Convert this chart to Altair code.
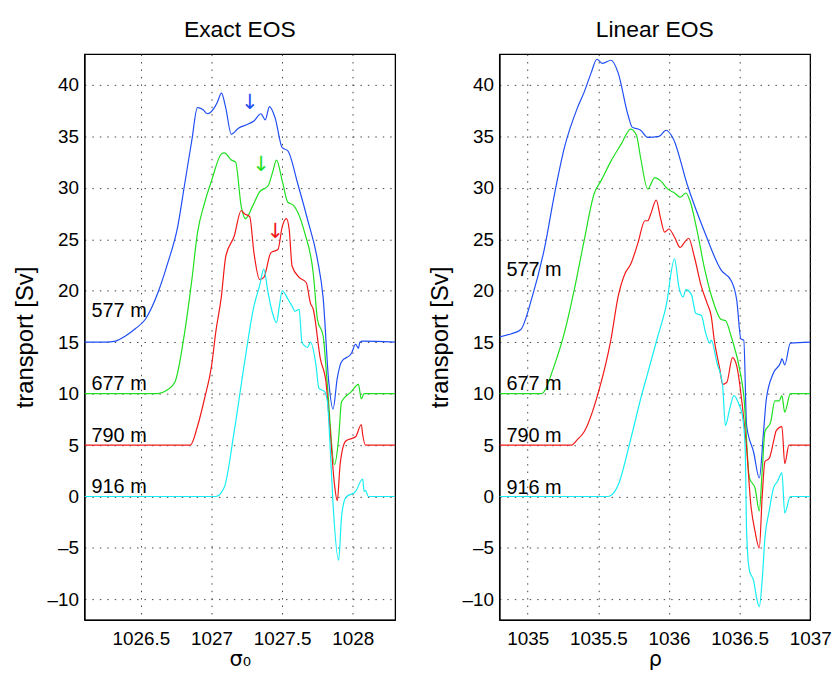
import altair as alt
import pandas as pd

FONT = "Liberation Sans"
SYM_FONT = "DejaVu Sans"
DEPTHS = ["577 m", "677 m", "790 m", "916 m"]
COLORS = ["#1f4ef5", "#1ee01e", "#f21818", "#14eef2"]
Y_TICKS = [-10, -5, 0, 5, 10, 15, 20, 25, 30, 35, 40]

# ---------------- Exact EOS (sigma_0) ----------------
e577_x = [1026.1, 1026.25, 1026.32, 1026.39, 1026.46, 1026.53, 1026.62, 1026.69, 1026.76, 1026.81,
          1026.86, 1026.90, 1026.94, 1026.97, 1027.02, 1027.04, 1027.07, 1027.10, 1027.14, 1027.19,
          1027.26, 1027.30, 1027.35, 1027.38, 1027.41, 1027.45, 1027.50, 1027.54, 1027.61, 1027.68,
          1027.75, 1027.79, 1027.83, 1027.86, 1027.89, 1027.92, 1027.99, 1028.02, 1028.04, 1028.05,
          1028.07, 1028.3]
e577_y = [15, 15, 15.1, 15.6, 16.3, 17.2, 19.8, 22.7, 26.2, 30.4,
          34.6, 37.8, 37.6, 37.2, 37.8, 38.3, 39.2, 37.8, 35.2, 35.8,
          36.2, 36.5, 37.2, 36.6, 37.9, 36.8, 33.9, 33.6, 30.4, 26.9,
          23.0, 19.3, 11.1, 8.5, 11.5, 13.1, 13.9, 14.8, 14.4, 15.0,
          15.1, 15.0]

e677_x = [1026.1, 1026.62, 1026.68, 1026.74, 1026.81, 1026.86, 1026.90, 1026.95, 1027.00, 1027.07,
          1027.09, 1027.14, 1027.17, 1027.21, 1027.24, 1027.29, 1027.34, 1027.40, 1027.43, 1027.46,
          1027.50, 1027.54, 1027.58, 1027.66, 1027.72, 1027.75, 1027.79, 1027.82, 1027.87, 1027.90,
          1027.92, 1027.99, 1028.04, 1028.06, 1028.08, 1028.3]
e677_y = [10, 10, 10.3, 11.1, 16.0, 21.0, 25.6, 28.5, 30.7, 33.3,
          33.4, 32.7, 32.5, 28.2, 27.0, 28.2, 29.6, 30.2, 31.4, 32.7,
          30.7, 28.6, 28.3, 25.6, 21.7, 17.2, 15.6, 10.8, 3.1, 5.7,
          9.2, 10.2, 10.9, 9.5, 10.0, 10.0]

e790_x = [1026.1, 1026.85, 1026.90, 1026.95, 1027.00, 1027.03, 1027.07, 1027.10, 1027.16, 1027.21,
          1027.23, 1027.27, 1027.30, 1027.34, 1027.37, 1027.42, 1027.47, 1027.50, 1027.53, 1027.55,
          1027.57, 1027.62, 1027.67, 1027.70, 1027.72, 1027.77, 1027.81, 1027.84, 1027.87, 1027.89,
          1027.91, 1027.95, 1028.02, 1028.06, 1028.07, 1028.09, 1028.3]
e790_y = [5, 5, 6.8, 9.5, 12.7, 16.0, 19.5, 23.3, 25.3, 27.8,
          27.5, 27.2, 23.7, 21.1, 21.3, 23.7, 24.0, 26.2, 27.0, 25.9,
          22.4, 21.3, 20.8, 18.8, 18.2, 13.4, 11.1, 6.3, 1.2, -0.4,
          3.1, 5.4, 5.8, 7.0, 6.0, 5.0, 5.0]

e916_x = [1026.1, 1027.03, 1027.09, 1027.16, 1027.23, 1027.30, 1027.34, 1027.37, 1027.40, 1027.43,
          1027.46, 1027.48, 1027.50, 1027.54, 1027.57, 1027.59, 1027.62, 1027.64, 1027.68, 1027.70,
          1027.74, 1027.76, 1027.80, 1027.82, 1027.84, 1027.86, 1027.90, 1027.92, 1027.95, 1028.02,
          1028.07, 1028.08, 1028.09, 1028.11, 1028.3]
e916_y = [0, 0, 0.9, 6.3, 12.7, 18.5, 20.5, 22.1, 19.8, 17.9,
          16.9, 18.5, 20.0, 19.2, 18.5, 18.0, 18.2, 15.0, 14.5, 15.0,
          12.7, 10.5, 10.2, 9.2, 4.7, -0.7, -6.2, -2.0, -0.1, 0.5,
          1.7, 0.5, 0.6, 0, 0]

# ---------------- Linear EOS (rho) ----------------
l577_x = [1034.8, 1034.88, 1034.95, 1035.03, 1035.12, 1035.19, 1035.26, 1035.35, 1035.40, 1035.45,
          1035.49, 1035.53, 1035.59, 1035.64, 1035.71, 1035.74, 1035.80, 1035.85, 1035.93, 1035.98,
          1036.03, 1036.13, 1036.25, 1036.37, 1036.44, 1036.48, 1036.51, 1036.53, 1036.55, 1036.60,
          1036.64, 1036.67, 1036.69, 1036.74, 1036.79, 1036.80, 1036.82, 1036.86, 1037.0]
l577_y = [15.5, 15.8, 16.2, 19.3, 24.2, 29.4, 33.9, 37.7, 39.3, 41.2,
          42.5, 42.1, 42.4, 41.2, 37.1, 35.9, 35.6, 34.9, 35.0, 35.6,
          34.8, 30.3, 25.8, 22.0, 21.0, 19.1, 15.3, 15.2, 6.9, 4.3,
          1.8, 6.3, 9.5, 12.0, 13.0, 13.4, 12.8, 14.9, 15.0]

l677_x = [1034.8, 1035.10, 1035.13, 1035.17, 1035.26, 1035.33, 1035.40, 1035.47, 1035.52, 1035.59,
          1035.66, 1035.73, 1035.77, 1035.80, 1035.85, 1035.90, 1035.94, 1035.99, 1036.04, 1036.08,
          1036.12, 1036.15, 1036.20, 1036.25, 1036.31, 1036.37, 1036.40, 1036.44, 1036.51, 1036.53,
          1036.57, 1036.61, 1036.64, 1036.66, 1036.68, 1036.72, 1036.75, 1036.78, 1036.80, 1036.82,
          1036.86, 1037.0]
l677_y = [10, 10, 10.5, 12.0, 15.9, 20.1, 24.9, 29.4, 30.7, 32.6,
          34.2, 35.7, 35.1, 32.9, 29.9, 31.0, 30.7, 29.9, 29.5, 29.1,
          29.5, 28.7, 25.8, 22.3, 19.1, 17.2, 17.1, 15.6, 11.7, 9.8,
          1.8, 0.8, -1.4, 2.4, 6.3, 7.2, 9.3, 9.3, 9.8, 8.2,
          10.0, 10.0]

l790_x = [1034.8, 1035.31, 1035.35, 1035.40, 1035.50, 1035.59, 1035.64, 1035.69, 1035.73, 1035.78,
          1035.83, 1035.85, 1035.87, 1035.91, 1035.94, 1035.97, 1036.00, 1036.04, 1036.08, 1036.11,
          1036.14, 1036.18, 1036.23, 1036.27, 1036.30, 1036.32, 1036.36, 1036.38, 1036.41, 1036.45,
          1036.48, 1036.52, 1036.55, 1036.58, 1036.61, 1036.64, 1036.66, 1036.68, 1036.71, 1036.74,
          1036.76, 1036.80, 1036.82, 1036.85, 1037.0]
l790_y = [5, 5, 5.5, 6.3, 10.1, 15.3, 19.4, 21.7, 22.6, 24.6,
          26.8, 26.8, 27.4, 28.8, 27.1, 25.7, 26.0, 25.2, 24.2, 24.7,
          25.1, 23.3, 20.4, 18.8, 17.5, 15.3, 12.4, 10.9, 11.1, 13.5,
          12.7, 8.8, 4.7, -0.8, -3.4, -5.0, -0.1, 3.4, 3.7, 5.3,
          6.4, 6.8, 3.2, 5.0, 5.0]

l916_x = [1034.8, 1035.57, 1035.64, 1035.73, 1035.80, 1035.85, 1035.92, 1035.98, 1036.04, 1036.07,
          1036.10, 1036.12, 1036.16, 1036.19, 1036.23, 1036.26, 1036.29, 1036.30, 1036.34, 1036.38,
          1036.40, 1036.43, 1036.46, 1036.50, 1036.52, 1036.54, 1036.55, 1036.57, 1036.60, 1036.62,
          1036.64, 1036.66, 1036.68, 1036.71, 1036.74, 1036.77, 1036.80, 1036.82, 1036.86, 1037.0]
l916_y = [0, 0, 1.1, 5.6, 9.5, 12.0, 15.5, 18.5, 23.1, 20.4,
          19.4, 20.1, 19.6, 17.8, 17.6, 15.9, 14.9, 15.2, 13.0, 10.8,
          6.9, 8.5, 9.8, 8.8, 7.9, 4.7, -3.4, -7.2, -8.2, -9.8,
          -10.7, -8.2, -4.0, -1.4, 0.8, 1.5, 2.3, -1.6, 0, 0]

# curve labels
exact_label_x = [1026.15, 1026.15, 1026.15, 1026.15]
exact_label_y = [18.0, 10.9, 5.9, 0.9]
linear_label_x = [1034.85, 1034.85, 1034.85, 1034.85]
linear_label_y = [22.0, 10.9, 5.9, 0.8]

# arrows in the Exact EOS panel
arrow_x = [1027.27, 1027.35, 1027.45]
arrow_y = [38.2, 32.2, 25.7]
arrow_depth = ["577 m", "677 m", "790 m"]


def series_frame(pairs):
    frames = []
    for name, xs, ys in pairs:
        frames.append(pd.DataFrame({"x": xs, "y": ys, "depth": name}))
    return pd.concat(frames, ignore_index=True)


exact_df = series_frame([("577 m", e577_x, e577_y), ("677 m", e677_x, e677_y),
                         ("790 m", e790_x, e790_y), ("916 m", e916_x, e916_y)])
linear_df = series_frame([("577 m", l577_x, l577_y), ("677 m", l677_x, l677_y),
                          ("790 m", l790_x, l790_y), ("916 m", l916_x, l916_y)])
exact_labels = pd.DataFrame({"x": exact_label_x, "y": exact_label_y, "label": DEPTHS})
linear_labels = pd.DataFrame({"x": linear_label_x, "y": linear_label_y, "label": DEPTHS})
arrows_df = pd.DataFrame({"x": arrow_x, "y": arrow_y, "depth": arrow_depth, "t": ["↓"] * 3})

color_scale = alt.Scale(domain=DEPTHS, range=COLORS)
y_label_expr = "replace(toString(datum.value), '-', '\u2013')"


def panel(df, labels, xdom, xticks, title, xtitle, arrows=None):
    x_enc = alt.X("x:Q", scale=alt.Scale(domain=xdom, nice=False, zero=False),
                  axis=alt.Axis(values=xticks, title=xtitle, format="~g", labelOverlap=False,
                                labelFlush=False, labelBound=False,
                                titleFont=SYM_FONT, titleFontSize=21))
    y_enc = alt.Y("y:Q", scale=alt.Scale(domain=[-12, 43], nice=False, zero=False),
                  axis=alt.Axis(values=Y_TICKS, title="transport [Sv]", labelExpr=y_label_expr,
                                labelOverlap=False, labelFlush=False))
    lines = alt.Chart(df).mark_line(strokeWidth=1.2, clip=True, interpolate="monotone").encode(
        x=x_enc, y=y_enc,
        color=alt.Color("depth:N", scale=color_scale, legend=None),
        detail="depth:N",
    )
    text = alt.Chart(labels).mark_text(
        align="left", baseline="middle", font=FONT, fontSize=20, color="black"
    ).encode(x="x:Q", y="y:Q", text="label:N")
    layers = [lines, text]
    if arrows is not None:
        arr = alt.Chart(arrows).mark_text(
            align="center", baseline="middle", font=SYM_FONT, fontSize=21
        ).encode(x="x:Q", y="y:Q", text="t:N",
                 color=alt.Color("depth:N", scale=color_scale, legend=None))
        layers.append(arr)
    return alt.layer(*layers).properties(
        width=313, height=570,
        title=alt.TitleParams(title, font=FONT, fontSize=23, fontWeight="normal",
                              color="black", offset=12),
    )


left = panel(exact_df, exact_labels, [1026.1, 1028.3], [1026.5, 1027, 1027.5, 1028],
             "Exact EOS", "σ₀", arrows_df)
right = panel(linear_df, linear_labels, [1034.8, 1037.0], [1035, 1035.5, 1036, 1036.5, 1037],
              "Linear EOS", "ρ")

chart = alt.hconcat(left, right, spacing=105, bounds="flush").properties(
    padding={"left": 4, "top": 8, "right": 0, "bottom": 0}
).configure_view(
    stroke="black", strokeWidth=1.3
).configure_axis(
    domainColor="black", domainWidth=1.3, ticks=False,
    grid=True, gridColor="#333333", gridDash=[1.5, 6], gridWidth=1, gridOpacity=0.9,
    labelFont=FONT, labelFontSize=19, labelColor="black",
    titleFont=FONT, titleFontSize=24, titleFontWeight="normal", titleColor="black",
).configure_axisY(
    labelPadding=6, titlePadding=10,
).configure_axisX(
    labelPadding=10, titlePadding=0,
)

chart.save("out.html", embed_options={"renderer": "svg", "actions": False})
